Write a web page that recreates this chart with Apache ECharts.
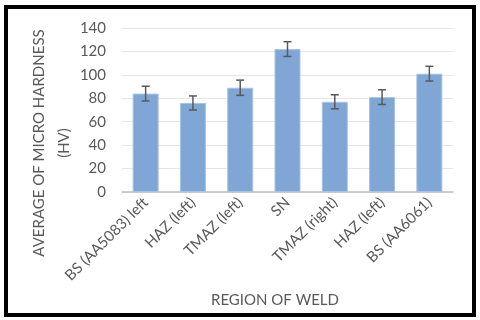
<!DOCTYPE html>
<html>
<head>
<meta charset="utf-8">
<script src="https://cdn.jsdelivr.net/npm/echarts@6/dist/echarts.min.js"></script>
<style>
  html, body { margin: 0; padding: 0; background: #fff; }
  #frame {
    position: absolute; left: 4px; top: 5px; width: 464px; height: 304px;
    border: 4px solid #000;
  }
  #chart { position: absolute; left: 0; top: 0; width: 480px; height: 320px; }
</style>
</head>
<body>
<div id="frame"></div>
<div id="chart"></div>
<script>
// regions along the weld
var categories = ['BS (AA5083) left', 'HAZ (left)', 'TMAZ (left)', 'SN', 'TMAZ (right)', 'HAZ (left)', 'BS (AA6061)'];
// average micro hardness (HV)
var hardness = [84, 76, 89, 122, 77, 81, 101];
// error bar half widths
var errors = [6.3, 6, 6.5, 6.3, 6, 6.3, 6.3];
var yTicks = [0, 20, 40, 60, 80, 100, 120, 140];

var errorData = hardness.map(function (v, i) {
  return [i, v - errors[i], v + errors[i]];
});

var chart = echarts.init(document.getElementById('chart'), null, { renderer: 'canvas' });

var font = 'Lato, "Open Sans", sans-serif';

var option = {
  animation: false,
  grid: { left: 122, right: 27, top: 28, bottom: 128 },
  xAxis: {
    type: 'category',
    data: categories,
    axisLine: { lineStyle: { color: '#bfbfbf', width: 1.5 } },
    axisTick: { show: false },
    axisLabel: {
      rotate: 45,
      interval: 0,
      margin: 8,
      color: '#595959',
      fontSize: 15,
      fontFamily: font
    }
  },
  yAxis: {
    type: 'value',
    min: yTicks[0],
    max: yTicks[yTicks.length - 1],
    interval: 20,
    axisLine: { show: false },
    axisTick: { show: false },
    splitLine: { lineStyle: { color: '#e6e6e6', width: 1 } },
    axisLabel: {
      color: '#595959',
      fontSize: 15,
      margin: 16,
      fontFamily: font
    }
  },
  graphic: [
    {
      type: 'text',
      x: 52, y: 143,
      rotation: Math.PI / 2,
      style: {
        text: 'AVERAGE OF MICRO HARDNESS\n(HV)',
        fill: '#595959',
        font: '15px ' + font,
        align: 'center',
        verticalAlign: 'middle',
        lineHeight: 25
      }
    },
    {
      type: 'text',
      x: 275, y: 300,
      style: {
        text: 'REGION OF WELD',
        fill: '#595959',
        font: '15px ' + font,
        align: 'center',
        verticalAlign: 'middle'
      }
    }
  ],
  series: [
    {
      type: 'bar',
      data: hardness,
      barCategoryGap: '45%',
      itemStyle: {
        color: '#7fa6d5',
        borderColor: '#a9c3e3',
        borderWidth: 1
      }
    },
    {
      type: 'custom',
      data: errorData,
      z: 10,
      renderItem: function (params, api) {
        var x = api.value(0);
        var lo = api.coord([x, api.value(1)]);
        var hi = api.coord([x, api.value(2)]);
        var cap = 4;
        var style = { stroke: '#595959', lineWidth: 1.5 };
        return {
          type: 'group',
          children: [
            { type: 'line', shape: { x1: hi[0], y1: hi[1], x2: lo[0], y2: lo[1] }, style: style },
            { type: 'line', shape: { x1: hi[0] - cap, y1: hi[1], x2: hi[0] + cap, y2: hi[1] }, style: style },
            { type: 'line', shape: { x1: lo[0] - cap, y1: lo[1], x2: lo[0] + cap, y2: lo[1] }, style: style }
          ]
        };
      }
    }
  ]
};

chart.setOption(option);
</script>
</body>
</html>
